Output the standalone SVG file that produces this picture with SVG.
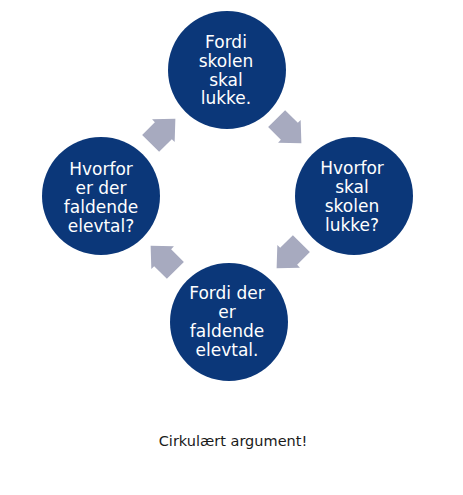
<svg xmlns="http://www.w3.org/2000/svg" width="463" height="495" viewBox="0 0 463 495">
<defs>
<style>
.node circle{fill:#0B3779}
.node text{fill:#FFFFFF;font-family:"DejaVu Sans",Verdana,sans-serif;font-size:17px;text-anchor:middle}
.arr{fill:#A7AABF}
.cap{fill:#1A1A1A;font-family:"DejaVu Sans",Verdana,sans-serif;font-size:14.5px;text-anchor:middle}
</style>
<path id="arrow" d="M-17.5,-12 L0.5,-12 L0.5,-16 L17.5,0 L0.5,16 L0.5,12 L-17.5,12 Z"/>
</defs>
<rect width="463" height="495" fill="#FFFFFF"/>
<g id="connectors">
<use href="#arrow" class="arr" transform="translate(163,131) rotate(-45)"/>
<use href="#arrow" class="arr" transform="translate(289,131) rotate(45)"/>
<use href="#arrow" class="arr" transform="translate(289,256) rotate(135)"/>
<use href="#arrow" class="arr" transform="translate(163,258) rotate(225)"/>
</g>
<g id="node-top" class="node">
<circle cx="227" cy="70" r="59"/>
<text x="226" y="48">Fordi</text>
<text x="226" y="67">skolen</text>
<text x="226" y="85.5">skal</text>
<text x="226" y="104">lukke.</text>
</g>
<g id="node-right" class="node">
<circle cx="354" cy="196" r="59"/>
<text x="352" y="173.5">Hvorfor</text>
<text x="352" y="192.5">skal</text>
<text x="352" y="211.5">skolen</text>
<text x="352" y="230.5">lukke?</text>
</g>
<g id="node-bottom" class="node">
<circle cx="229" cy="322" r="59"/>
<text x="227" y="299">Fordi der</text>
<text x="227" y="318">er</text>
<text x="227" y="337">faldende</text>
<text x="227" y="356">elevtal.</text>
</g>
<g id="node-left" class="node">
<circle cx="101" cy="196" r="59"/>
<text x="101" y="175">Hvorfor</text>
<text x="101" y="194">er der</text>
<text x="101" y="213">faldende</text>
<text x="101" y="232">elevtal?</text>
</g>
<text class="cap" x="233" y="446">Cirkulært argument!</text>
</svg>
